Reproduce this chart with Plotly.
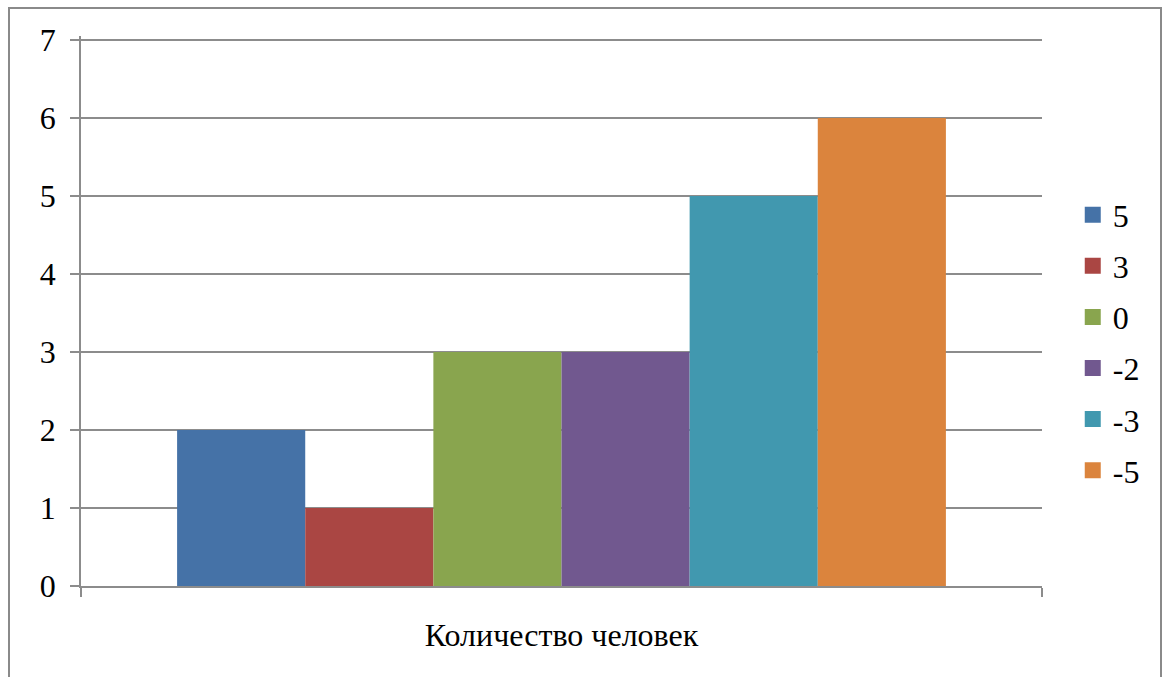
import plotly.graph_objects as go

# Survey data: how many people chose each score
category = ["Количество человек"]
series_names = ["5", "3", "0", "-2", "-3", "-5"]
series_values = [2, 1, 3, 3, 5, 6]
series_colors = ["#4572A7", "#AA4643", "#89A54E", "#71588F", "#4198AF", "#DB843D"]

y_ticks = [0, 1, 2, 3, 4, 5, 6, 7]

FONT = "Liberation Serif"
FSIZE = 32
GRID = "#8c8c8c"

fig = go.Figure()

for name, val, col in zip(series_names, series_values, series_colors):
    fig.add_trace(go.Bar(
        x=category, y=[val], name=name,
        marker=dict(color=col, line=dict(width=0)),
        showlegend=False, legendgroup=name,
    ))

# legend entries with larger square swatches
for name, col in zip(series_names, series_colors):
    fig.add_trace(go.Scatter(
        x=[None], y=[None], mode="markers", name=name,
        marker=dict(symbol="square", size=16, color=col, line=dict(width=0)),
        legendgroup=name, showlegend=True, hoverinfo="skip",
    ))

fig.update_layout(
    template="none",
    width=1168, height=677,
    margin=dict(l=81, r=126, t=36, b=91),
    paper_bgcolor="white", plot_bgcolor="white",
    font=dict(family=FONT, size=FSIZE, color="black"),
    barmode="group", bargap=0.2, bargroupgap=0,
    legend=dict(
        x=1.032, xanchor="left", y=0.442, yanchor="middle",
        font=dict(family=FONT, size=FSIZE, color="black"),
        tracegroupgap=6.5, bgcolor="rgba(0,0,0,0)",
    ),
    xaxis=dict(
        type="category", range=[-0.5, 0.5],
        showline=True, linecolor=GRID, linewidth=1.5,
        ticks="outside", tickson="boundaries", ticklen=9,
        tickcolor=GRID, tickwidth=1.5,
        showgrid=False, ticklabelstandoff=20,
        tickfont=dict(family=FONT, size=FSIZE, color="black"),
    ),
    yaxis=dict(
        range=[0, 7.05], tickvals=y_ticks,
        showline=True, linecolor=GRID, linewidth=1.5,
        ticks="outside", ticklen=9, tickcolor=GRID, tickwidth=1.5,
        showgrid=True, gridcolor=GRID, gridwidth=1.5,
        zeroline=False, ticklabelstandoff=8,
        tickfont=dict(family=FONT, size=FSIZE, color="black"),
    ),
)

# outer chart frame
fig.add_shape(
    type="rect", xref="paper", yref="paper",
    x0=(9 - 81) / 961, x1=(1161 - 81) / 961,
    y0=(586 - 690) / 550, y1=(586 - 8) / 550,
    line=dict(color="#8a8a8a", width=2), fillcolor="rgba(0,0,0,0)",
    layer="below",
)

fig.write_html("out.html")
